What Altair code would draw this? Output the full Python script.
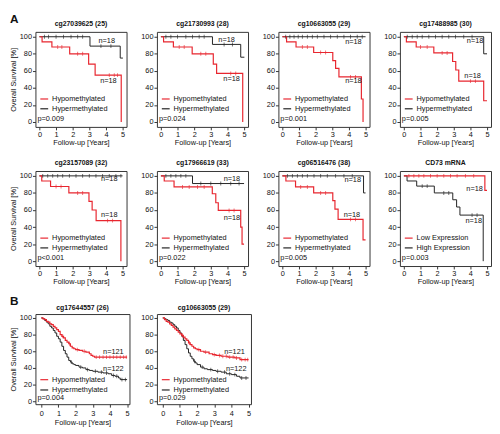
import altair as alt
import pandas as pd

RED = "#e8262f"
BLACK = "#222222"
FONT = "Liberation Sans"

METH = ["Hypomethylated", "Hypermethylated"]
EXPR = ["Low Expression", "High Expression"]

# ---------------- Panel A data (n=18 per group) ----------------
A1_TITLE = "cg27039625 (25)"
A1_RED = [(0, 100), (0.16, 94), (0.75, 88), (1.82, 80), (2.96, 68), (3.35, 55), (4.92, 0)]
A1_BLACK = [(0, 100), (3.04, 89), (4.86, 75), (5.02, 75)]
A1_RED_CENS = [1.1, 1.35, 2.3, 2.6, 4.2, 4.5, 4.7]
A1_BLACK_CENS = [0.3, 0.55, 1.0, 1.45, 1.9, 2.3, 2.6, 3.7, 4.3]
A1_N = [("n=18", 4.05, 95.5), ("n=18", 4.15, 48)]
A1_P = "p=0.009"

A2_TITLE = "cg21730993 (28)"
A2_RED = [(0, 100), (0.16, 94), (0.75, 88), (1.88, 80), (3.15, 68), (3.35, 57), (4.92, 0)]
A2_BLACK = [(0, 100), (3.1, 91), (4.8, 76), (5.02, 76)]
A2_RED_CENS = [1.1, 1.4, 2.4, 2.7, 4.2, 4.5]
A2_BLACK_CENS = [0.3, 0.6, 1.0, 1.5, 1.9, 2.3, 2.6, 3.8, 4.3]
A2_N = [("n=18", 3.95, 96.5), ("n=18", 4.25, 50.5)]
A2_P = "p=0.024"

A3_TITLE = "cg10663055 (29)"
A3_RED = [(0, 100), (0.25, 94), (0.82, 88), (1.88, 81.5), (3.03, 72), (3.2, 63), (3.4, 53), (4.75, 27), (4.85, 0)]
A3_BLACK = [(0, 100), (5.0, 100)]
A3_RED_CENS = [1.2, 1.5, 2.3, 2.6, 4.1, 4.4]
A3_BLACK_CENS = [0.2, 0.45, 0.7, 0.95, 1.2, 1.5, 1.8, 2.1, 2.5, 2.9, 3.3, 3.7, 4.1, 4.5, 4.8]
A3_N = [("n=18", 4.27, 93.5), ("n=18", 4.27, 47.5)]
A3_P = "p=0.001"

A4_TITLE = "cg17488985 (30)"
A4_RED = [(0, 100), (0.15, 94), (0.74, 88), (1.8, 81), (2.93, 71), (3.12, 61), (3.3, 48), (4.8, 25), (5.0, 25)]
A4_BLACK = [(0, 100), (4.8, 80), (5.0, 80)]
A4_RED_CENS = [1.0, 1.4, 2.3, 2.6, 4.0, 4.3]
A4_BLACK_CENS = [0.2, 0.5, 0.8, 1.1, 1.5, 1.9, 2.3, 2.7, 3.1, 3.6, 4.1]
A4_N = [("n=18", 4.28, 95.5), ("n=18", 4.13, 54)]
A4_P = "p=0.005"

A5_TITLE = "cg23157089 (32)"
A5_RED = [(0, 100), (0.14, 94), (0.67, 87.5), (1.77, 80), (2.98, 70), (3.17, 60), (3.41, 47.5), (4.9, 0)]
A5_BLACK = [(0, 100), (5.0, 100)]
A5_RED_CENS = [1.0, 1.3, 2.3, 2.6, 4.1, 4.4]
A5_BLACK_CENS = [0.2, 0.5, 0.8, 1.1, 1.4, 1.8, 2.2, 2.6, 3.0, 3.4, 3.8, 4.2, 4.6, 4.9]
A5_N = [("n=18", 4.2, 96), ("n=18", 4.2, 54)]
A5_P = "p<0.001"

A6_TITLE = "cg17966619 (33)"
A6_RED = [(0, 100), (0.2, 94), (0.79, 87), (3.09, 79), (3.3, 68.5), (3.45, 59.5), (4.8, 40), (4.88, 20), (5.0, 20)]
A6_BLACK = [(0, 100), (1.9, 91), (5.0, 91)]
A6_RED_CENS = [1.3, 1.7, 2.2, 2.6, 4.1, 4.4]
A6_BLACK_CENS = [0.3, 0.6, 0.9, 1.2, 1.5, 2.4, 3.0, 3.6, 4.2, 4.7]
A6_N = [("n=18", 4.27, 96.5), ("n=18", 4.27, 51)]
A6_P = "p=0.022"

A7_TITLE = "cg06516476 (38)"
A7_RED = [(0, 100), (0.21, 94), (0.79, 87), (1.88, 80), (3.03, 71), (3.16, 61), (3.35, 49), (4.85, 25), (5.0, 25)]
A7_BLACK = [(0, 100), (4.88, 80), (5.0, 80)]
A7_RED_CENS = [1.1, 1.5, 2.3, 2.6, 4.1, 4.4]
A7_BLACK_CENS = [0.3, 0.6, 0.9, 1.2, 1.5, 1.9, 2.3, 2.7, 3.2, 3.7, 4.2]
A7_N = [("n=18", 4.23, 95), ("n=18", 4.18, 54.5)]
A7_P = "p=0.005"

A8_TITLE = "CD73 mRNA"
A8_RED = [(0, 100), (4.87, 83), (5.0, 83)]
A8_BLACK = [(0, 100), (0.19, 94), (0.77, 88), (1.83, 80), (2.94, 72), (3.17, 63.5), (3.37, 54), (4.77, 0)]
A8_RED_CENS = [0.3, 0.6, 0.9, 1.2, 1.6, 2.0, 2.4, 2.8, 3.2, 3.7, 4.2]
A8_BLACK_CENS = [1.1, 1.4, 2.4, 2.7, 4.1, 4.4]
A8_N = [("n=18", 4.25, 85), ("n=18", 4.2, 47)]
A8_P = "p=0.003"

# ---------------- Panel B data (n=121 / n=122) ----------------
B1_TITLE = "cg17644557 (26)"
B1_RED = [(0, 100), (0.1, 99), (0.2, 98), (0.3, 96), (0.4, 95), (0.5, 93), (0.6, 92), (0.7, 90),
          (0.8, 88), (0.9, 86), (1.0, 84), (1.1, 80), (1.2, 78), (1.3, 76), (1.4, 73), (1.5, 71),
          (1.6, 69), (1.7, 66), (1.8, 64), (1.9, 63), (2.0, 62), (2.2, 61), (2.4, 60), (2.6, 59),
          (2.8, 57), (2.9, 55), (3.0, 54), (3.1, 53), (5.0, 53)]
B1_BLACK = [(0, 100), (0.1, 99), (0.2, 97), (0.3, 95), (0.4, 93), (0.5, 90), (0.6, 88), (0.7, 85),
            (0.8, 82), (0.9, 78), (1.0, 75), (1.1, 71), (1.2, 66), (1.3, 61), (1.4, 57), (1.5, 53),
            (1.6, 49), (1.7, 47), (1.8, 45), (1.9, 44), (2.0, 43), (2.2, 41), (2.4, 40), (2.6, 38),
            (2.8, 37), (3.0, 36), (3.3, 35), (3.6, 34), (3.9, 33), (4.1, 31), (4.3, 30), (4.5, 28),
            (4.6, 26), (5.0, 26)]
B1_RED_CENS = [1.25, 1.65, 2.1, 2.5, 3.2, 3.4, 3.6, 3.8, 4.0, 4.2, 4.4, 4.6, 4.8, 4.95]
B1_BLACK_CENS = [1.75, 2.3, 2.7, 3.15, 3.5, 3.8, 4.2, 4.4, 4.7, 4.9]
B1_N = [("n=121", 4.2, 59), ("n=122", 4.2, 39)]
B1_P = "p=0.004"

B2_TITLE = "cg10663055 (29)"
B2_RED = [(0, 100), (0.1, 98), (0.2, 96), (0.3, 95), (0.4, 93), (0.5, 91), (0.6, 89), (0.7, 87),
          (0.8, 85), (0.9, 83), (1.0, 81), (1.1, 79), (1.2, 77), (1.3, 75), (1.4, 73), (1.5, 70),
          (1.6, 68), (1.7, 66), (1.8, 64), (1.9, 63), (2.0, 62), (2.2, 60), (2.4, 59), (2.7, 57),
          (2.9, 56), (3.1, 55), (3.4, 54), (3.8, 53), (4.2, 52), (4.5, 50), (5.0, 50)]
B2_BLACK = [(0, 100), (0.1, 99), (0.2, 98), (0.3, 97), (0.4, 95), (0.5, 94), (0.6, 92), (0.7, 90),
            (0.8, 88), (0.9, 85), (1.0, 82), (1.1, 78), (1.2, 73), (1.3, 68), (1.4, 63), (1.5, 58),
            (1.6, 54), (1.7, 51), (1.8, 48), (1.9, 46), (2.0, 44), (2.2, 41), (2.4, 39), (2.6, 38),
            (2.9, 37), (3.1, 36), (3.4, 35), (3.7, 33), (4.0, 32), (4.3, 30), (4.5, 28), (5.0, 28)]
B2_RED_CENS = [1.15, 1.55, 2.1, 2.5, 3.0, 3.3, 3.5, 3.7, 3.9, 4.1, 4.3, 4.6, 4.8, 4.95]
B2_BLACK_CENS = [1.85, 2.3, 2.8, 3.2, 3.6, 3.9, 4.2, 4.6, 4.85]
B2_N = [("n=121", 4.18, 59.5), ("n=122", 4.28, 38.5)]
B2_P = "p=0.029"


def surv_at(steps, t):
    v = steps[0][1]
    for tt, ss in steps:
        if tt <= t:
            v = ss
    return v


def make_panel(title, red, black, red_cens, black_cens, nlab, legend, pval,
               row="A", ytitle=False, letter=None):
    if row == "A":
        w, h = 93, 97
        xdom, ydom = [-0.24, 5.24], [-5.7, 105.7]
        ly = (68.5, 78.5, 88.5)
        lpad, ty = 0.5, -8
    else:
        w, h = 96, 92
        xdom, ydom = [-0.34, 5.14], [-3.5, 104.7]
        ly = (67, 77.5, 86)
        lpad, ty = 3, -6.5
    yaxis_kw = dict(values=[0, 20, 40, 60, 80, 100], labelPadding=1, titlePadding=2)
    if ytitle:
        yaxis_kw["title"] = "Overall Survival [%]"
    else:
        yaxis_kw["title"] = None
    X = alt.X("t:Q", scale=alt.Scale(domain=xdom, nice=False, zero=False),
              axis=alt.Axis(values=[0, 1, 2, 3, 4, 5], format="d", title="Follow-up [Years]",
                            labelPadding=lpad, titlePadding=1))
    Y = alt.Y("s:Q", scale=alt.Scale(domain=ydom, nice=False, zero=False),
              axis=alt.Axis(**yaxis_kw))

    def line(steps, color, sw):
        df = pd.DataFrame({"t": [p[0] for p in steps], "s": [p[1] for p in steps]})
        return alt.Chart(df).mark_line(interpolate="step-after", color=color,
                                       strokeWidth=sw).encode(x=X, y=Y)

    def cens(steps, times, color):
        df = pd.DataFrame({"t": times, "s": [surv_at(steps, t) for t in times]})
        return alt.Chart(df).mark_tick(orient="vertical", color=color, size=4,
                                       thickness=0.9).encode(x=X, y=Y)

    ndf = pd.DataFrame({"t": [n[1] for n in nlab], "s": [n[2] for n in nlab],
                        "lab": [n[0] for n in nlab]})
    ntext = alt.Chart(ndf).mark_text(fontSize=7.5, color="#111").encode(x=X, y=Y, text="lab:N")

    one = pd.DataFrame({"k": [0]})

    def ptext(xv, yv, s, **kw):
        opts = dict(align="left", baseline="middle", fontSize=7.5, color="#111")
        opts.update(kw)
        return alt.Chart(one).mark_text(**opts).encode(
            x=alt.value(xv), y=alt.value(yv), text=alt.value(s))

    leg_r = alt.Chart(one).mark_rule(color=RED, strokeWidth=1.2).encode(
        x=alt.value(5), x2=alt.value(13), y=alt.value(ly[0]))
    leg_b = alt.Chart(one).mark_rule(color=BLACK, strokeWidth=1.2).encode(
        x=alt.value(5), x2=alt.value(13), y=alt.value(ly[1]))

    layers = [line(black, BLACK, 1.0), line(red, RED, 1.2),
              cens(black, black_cens, BLACK), cens(red, red_cens, RED),
              ntext, leg_r, leg_b,
              ptext(17, ly[0], legend[0]), ptext(17, ly[1], legend[1]), ptext(2, ly[2], pval),
              ptext(w / 2, ty, title, align="center", fontSize=7, fontWeight="bold")]
    if letter:
        layers.append(ptext(-26, -18, letter, baseline="top", fontSize=12, fontWeight="bold"))
    return alt.layer(*layers).properties(width=w, height=h)


p1 = make_panel(A1_TITLE, A1_RED, A1_BLACK, A1_RED_CENS, A1_BLACK_CENS, A1_N, METH, A1_P, ytitle=True, letter="A")
p2 = make_panel(A2_TITLE, A2_RED, A2_BLACK, A2_RED_CENS, A2_BLACK_CENS, A2_N, METH, A2_P)
p3 = make_panel(A3_TITLE, A3_RED, A3_BLACK, A3_RED_CENS, A3_BLACK_CENS, A3_N, METH, A3_P)
p4 = make_panel(A4_TITLE, A4_RED, A4_BLACK, A4_RED_CENS, A4_BLACK_CENS, A4_N, METH, A4_P)
p5 = make_panel(A5_TITLE, A5_RED, A5_BLACK, A5_RED_CENS, A5_BLACK_CENS, A5_N, METH, A5_P, ytitle=True)
p6 = make_panel(A6_TITLE, A6_RED, A6_BLACK, A6_RED_CENS, A6_BLACK_CENS, A6_N, METH, A6_P)
p7 = make_panel(A7_TITLE, A7_RED, A7_BLACK, A7_RED_CENS, A7_BLACK_CENS, A7_N, METH, A7_P)
p8 = make_panel(A8_TITLE, A8_RED, A8_BLACK, A8_RED_CENS, A8_BLACK_CENS, A8_N, EXPR, A8_P)
b1 = make_panel(B1_TITLE, B1_RED, B1_BLACK, B1_RED_CENS, B1_BLACK_CENS, B1_N, METH, B1_P,
                row="B", ytitle=True, letter="B")
b2 = make_panel(B2_TITLE, B2_RED, B2_BLACK, B2_RED_CENS, B2_BLACK_CENS, B2_N, METH, B2_P, row="B")

rowA1 = alt.hconcat(p1, p2, p3, p4, spacing=12)
rowA2 = alt.hconcat(p5, p6, p7, p8, spacing=12)
rowB = alt.hconcat(b1, b2, spacing=9)

chart = alt.vconcat(alt.vconcat(rowA1, rowA2, spacing=12), rowB, spacing=9).properties(
    padding=0
).configure_view(
    stroke="#333333", strokeWidth=1
).configure_axis(
    domain=False, grid=False, tickColor="#333333", tickSize=3, tickWidth=1,
    labelFont=FONT, titleFont=FONT, labelFontSize=7.5, titleFontSize=7.5,
    labelColor="#111111", titleColor="#111111", titleFontWeight="normal"
).configure_text(font=FONT)

chart.save("out.html", embed_options={"renderer": "svg", "actions": False})
